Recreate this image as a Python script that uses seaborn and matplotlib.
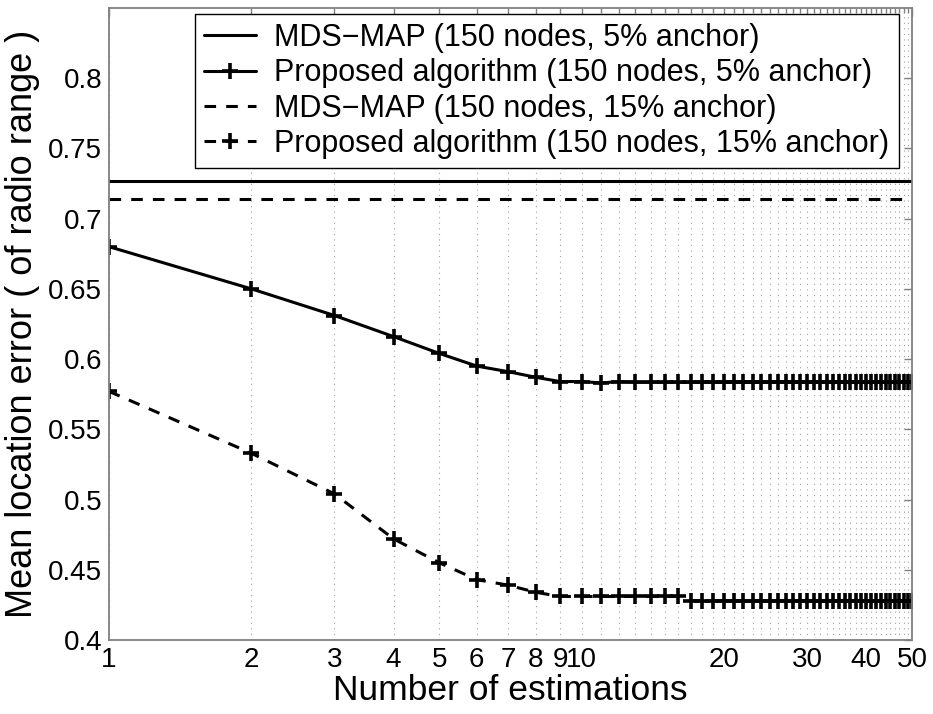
import numpy as np
import pandas as pd
import matplotlib
matplotlib.use("Agg")
import matplotlib.pyplot as plt
import seaborn as sns

# data
estimations = list(range(1, 51))

mds_5 = 0.727
mds_15 = 0.714

proposed_5 = [
    0.680, 0.650, 0.631, 0.616, 0.604, 0.595, 0.591, 0.587, 0.584, 0.584,
    0.583, 0.584, 0.5835, 0.5835, 0.5835, 0.5835, 0.5835, 0.5835, 0.5835, 0.5835,
    0.5835, 0.5835, 0.5835, 0.5835, 0.5835, 0.5835, 0.5835, 0.5835, 0.5835, 0.5835,
    0.5835, 0.5835, 0.5835, 0.5835, 0.5835, 0.5835, 0.5835, 0.5835, 0.5835, 0.5835,
    0.5835, 0.5835, 0.5835, 0.5835, 0.5835, 0.5835, 0.5835, 0.5835, 0.5835, 0.5835,
]
proposed_15 = [
    0.577, 0.533, 0.504, 0.472, 0.455, 0.443, 0.439, 0.434, 0.431, 0.431,
    0.431, 0.431, 0.431, 0.431, 0.431, 0.431, 0.428, 0.428, 0.428, 0.428,
    0.428, 0.428, 0.428, 0.428, 0.428, 0.428, 0.428, 0.428, 0.428, 0.428,
    0.428, 0.428, 0.428, 0.428, 0.428, 0.428, 0.428, 0.428, 0.428, 0.428,
    0.428, 0.428, 0.428, 0.428, 0.428, 0.428, 0.428, 0.428, 0.428, 0.428,
]

labels = [
    "MDS\u2212MAP (150 nodes, 5% anchor)",
    "Proposed algorithm (150 nodes, 5% anchor)",
    "MDS\u2212MAP (150 nodes, 15% anchor)",
    "Proposed algorithm (150 nodes, 15% anchor)",
]

x_major = [1, 2, 3, 4, 5, 6, 7, 8, 9, 10, 20, 30, 40, 50]
y_ticks = [0.4, 0.45, 0.5, 0.55, 0.6, 0.65, 0.7, 0.75, 0.8]

sns.set_theme(style="white")
plt.rcParams["font.family"] = ["Liberation Sans", "DejaVu Sans"]

df = pd.DataFrame({"n": estimations, "p5": proposed_5, "p15": proposed_15})

fig = plt.figure(figsize=(9.33, 7.14), dpi=100)
ax = fig.add_axes([0.1168, 0.1036, 0.8607, 0.8854])

lw = 2.2
dash = (0, (3.8, 3.3))
mk = dict(marker="+", markersize=12, markeredgewidth=2.6,
          markeredgecolor="black", markerfacecolor="black")

ax.axhline(mds_5, color="black", lw=lw, label=labels[0])
sns.lineplot(data=df, x="n", y="p5", ax=ax, color="black", lw=lw,
             label=labels[1], **mk)
ax.axhline(mds_15, color="black", lw=lw, ls=dash, label=labels[2])
sns.lineplot(data=df, x="n", y="p15", ax=ax, color="black", lw=lw, ls=dash,
             label=labels[3], **mk)

ax.set_xscale("log")
ax.set_xlim(1, 50)
ax.set_ylim(0.4, 0.85)

minor = [v for v in range(11, 50) if v % 10 != 0]
ax.set_xticks(x_major)
ax.set_xticklabels([str(v) for v in x_major])
ax.set_xticks(minor, minor=True)
ax.set_xticklabels([], minor=True)
ax.set_yticks(y_ticks)
ax.set_yticklabels([f"{v:g}" for v in y_ticks])

ax.tick_params(which="both", direction="in", top=True, right=True,
               color="#808080", labelsize=20, labelcolor="black", pad=5)
ax.tick_params(which="major", length=6, width=1)
ax.tick_params(which="minor", length=3.5, width=1)

ax.xaxis.grid(True, which="both", ls=(0, (1, 4)), color="#a0a0a0", lw=0.8)
ax.yaxis.grid(False)

for s in ax.spines.values():
    s.set_color("#808080")
    s.set_linewidth(1.3)

ax.set_xlabel("Number of estimations", fontsize=25.5, labelpad=1, color="black")
ax.set_ylabel("Mean location error ( of radio range )", fontsize=26, labelpad=6,
              color="black")

leg = ax.legend(loc="upper right", bbox_to_anchor=(0.991, 1.0), fontsize=22,
                frameon=True, fancybox=False, framealpha=1, edgecolor="black",
                handlelength=1.7, handletextpad=0.6, borderpad=0.3,
                labelspacing=0.17, borderaxespad=0.2)
leg.get_frame().set_linewidth(1.0)
for t in leg.get_texts():
    t.set_color("black")

plt.savefig("out.png", dpi=100)
